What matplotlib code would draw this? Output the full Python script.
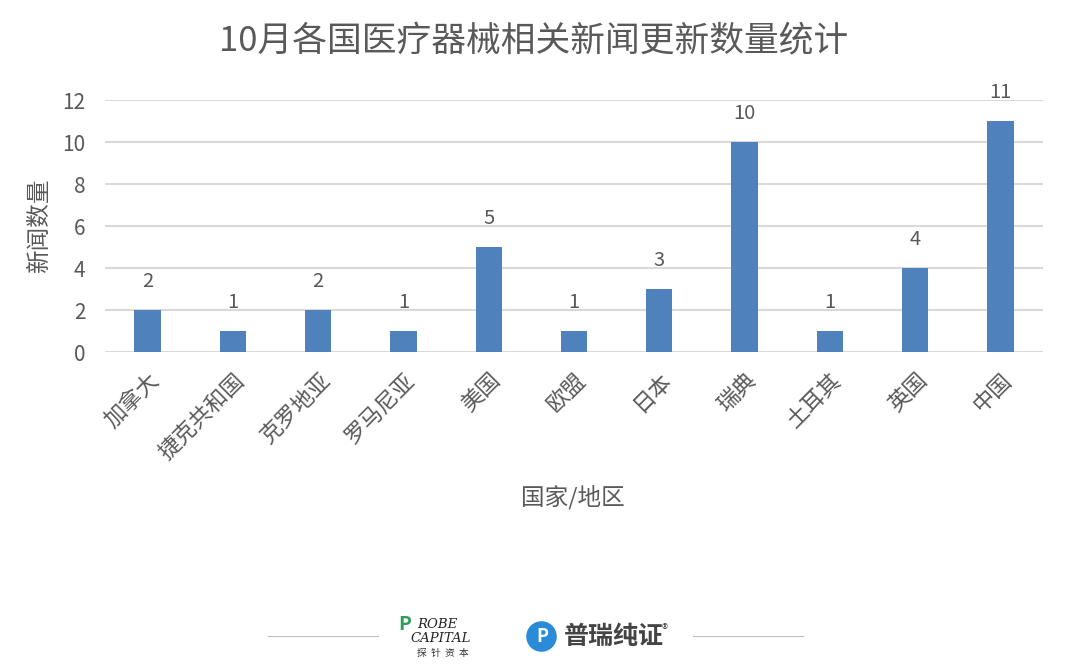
import matplotlib.pyplot as plt
from matplotlib.lines import Line2D

plt.rcParams['font.family'] = ['Noto Sans CJK SC', 'DejaVu Sans']

countries = ['加拿大', '捷克共和国', '克罗地亚', '罗马尼亚', '美国', '欧盟',
             '日本', '瑞典', '土耳其', '英国', '中国']
news_counts = [2, 1, 2, 1, 5, 1, 3, 10, 1, 4, 11]
y_ticks = [0, 2, 4, 6, 8, 10, 12]

BAR_COLOR = '#4f81bd'
TEXT_COLOR = '#595959'
GRID_COLOR = '#d9d9d9'

fig = plt.figure(figsize=(10.68, 6.69), dpi=100)
ax = fig.add_axes([0.0983, 0.4738, 0.8783, 0.3767])

x = range(len(countries))
bars = ax.bar(x, news_counts, width=0.31, color=BAR_COLOR, zorder=3)
for xi, v in zip(x, news_counts):
    ax.text(xi, v + 0.85, str(v), ha='center', va='bottom', fontsize=14.5,
            color=TEXT_COLOR)

ax.set_xlim(-0.5, len(countries) - 0.5)
ax.set_ylim(0, 12)
ax.set_yticks(y_ticks)
ax.yaxis.grid(True, color=GRID_COLOR, linewidth=1.5, zorder=0)
for s in ax.spines.values():
    s.set_visible(False)
ax.tick_params(axis='both', length=0, colors=TEXT_COLOR)
ax.tick_params(axis='y', labelsize=15, pad=14)
ax.set_xticks(list(x))
ax.set_xticklabels(countries, rotation=45, ha='right', rotation_mode='anchor',
                   fontsize=16, color=TEXT_COLOR)
ax.tick_params(axis='x', pad=12)

ax.set_ylabel('新闻数量', fontsize=17, color=TEXT_COLOR, labelpad=8)
fig.text(0.5365, 1 - 497 / 669, '国家/地区', ha='center', va='center',
         fontsize=17, color=TEXT_COLOR)
fig.text(0.5, 1 - 42 / 669, '10月各国医疗器械相关新闻更新数量统计', ha='center',
         va='center', fontsize=25, color=TEXT_COLOR)

# footer logos
fy = 1 - 636 / 669
fig.add_artist(Line2D([268 / 1068, 378 / 1068], [fy, fy], color='#bfbfbf', lw=0.8))
fig.add_artist(Line2D([693 / 1068, 803 / 1068], [fy, fy], color='#bfbfbf', lw=0.8))
fig.text(405 / 1068, 1 - 625 / 669, 'P', ha='center', va='center',
         fontsize=14, color='#2e9e5b', fontweight='bold')
fig.text(417 / 1068, 1 - 624 / 669, 'ROBE', ha='left', va='center',
         fontsize=9.5, style='italic', color='#222222', family='DejaVu Serif')
fig.text(410 / 1068, 1 - 639 / 669, 'CAPITAL', ha='left', va='center',
         fontsize=9.5, style='italic', color='#222222', family='DejaVu Serif')
fig.text(443 / 1068, 1 - 653 / 669, '探  针  资  本', ha='center', va='center',
         fontsize=7, color='#333333')
fig.add_artist(Line2D([541 / 1068], [1 - 636 / 669], marker='o', markersize=21,
                      color='#2a8bd8', linestyle='none'))
fig.text(542 / 1068, 1 - 636 / 669, 'P', ha='center', va='center',
         fontsize=13, color='white', fontweight='bold')
fig.text(564 / 1068, 1 - 637 / 669, '普瑞纯证', ha='left', va='center',
         fontsize=18, color='#444444', fontweight='bold')
fig.text(662 / 1068, 1 - 630 / 669, '®', ha='left', va='center',
         fontsize=9, color='#444444')

fig.savefig('out.png', dpi=100, facecolor='white')
